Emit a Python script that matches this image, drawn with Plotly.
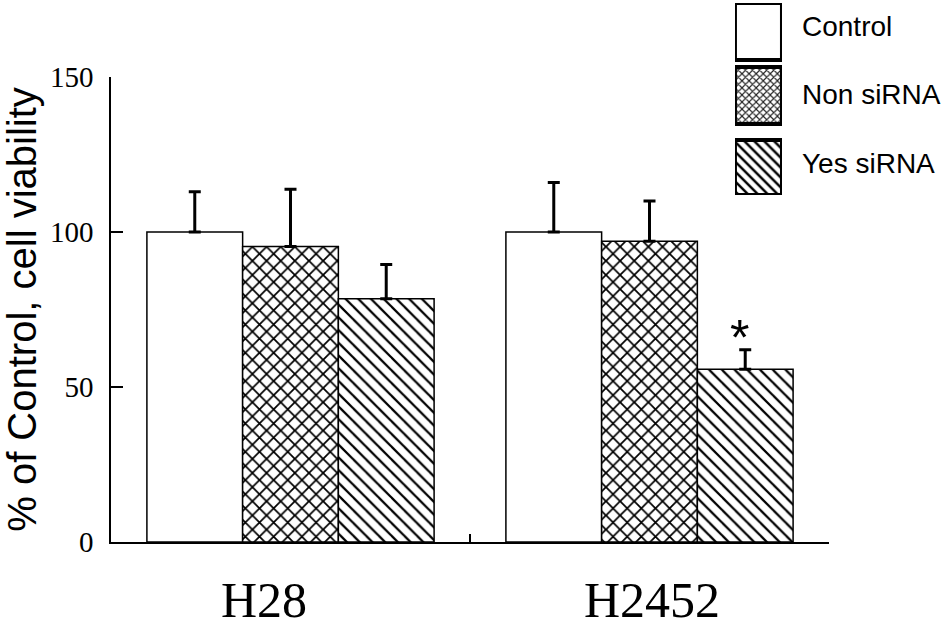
import plotly.graph_objects as go

categories = ["H28", "H2452"]
series_names = ["Control", "Non siRNA", "Yes siRNA"]
control = [100, 100]
non_sirna = [95.3, 97]
yes_sirna = [78.5, 55.7]
control_err = [13, 16]
non_err = [18.5, 13]
yes_err = [11, 6.3]
y_ticks = [0, 50, 100, 150]

values = [control, non_sirna, yes_sirna]
errors = [control_err, non_err, yes_err]
patterns = [dict(shape=""), dict(shape="x", size=10, solidity=0.32, fgcolor="black", bgcolor="white", fgopacity=1),
            dict(shape="\\", size=9, solidity=0.25, fgcolor="black", bgcolor="white", fgopacity=1)]

fig = go.Figure()
for name, v, e, p in zip(series_names, values, errors, patterns):
    fig.add_trace(go.Bar(
        x=categories, y=v, name=name, showlegend=False,
        marker=dict(color="white", line=dict(color="black", width=1.5), pattern=p),
        error_y=dict(type="data", array=e, arrayminus=[0] * len(e), symmetric=False,
                     color="black", thickness=3, width=6),
    ))

# custom legend swatches on an overlay axis
leg_patterns = [dict(shape=""), dict(shape="x", size=5, solidity=0.4, fgcolor="#222", bgcolor="white", fgopacity=1),
                dict(shape="\\", size=7, solidity=0.35, fgcolor="black", bgcolor="white", fgopacity=1)]
leg_base = [135, 71, 0]
leg_height = [57, 57, 55]
for name, p, b, h in zip(series_names, leg_patterns, leg_base, leg_height):
    fig.add_trace(go.Bar(
        x=[0], y=[h], base=[b], width=[1], xaxis="x2", yaxis="y2", showlegend=False,
        offsetgroup="leg",
        marker=dict(color="white", line=dict(color="black", width=4), pattern=p),
        hoverinfo="skip",
    ))

fig.update_layout(
    width=945, height=630,
    margin=dict(l=111, r=116, t=0, b=88),
    paper_bgcolor="white", plot_bgcolor="white",
    barmode="group", bargap=0.2, bargroupgap=0,
    showlegend=False,
    xaxis=dict(
        automargin=False,
        showline=True, linecolor="black", linewidth=1.5,
        ticks="inside", ticklen=8, tickwidth=1.5, tickcolor="black",
        tickson="boundaries", showgrid=False, showticklabels=False,
    ),
    yaxis=dict(
        automargin=False,
        domain=[0, 465 / 542],
        range=[0, 150], tickvals=y_ticks,
        showline=True, linecolor="black", linewidth=1.5,
        ticks="inside", ticklen=12, tickwidth=1.5, tickcolor="black",
        showgrid=False, zeroline=False,
        tickfont=dict(family="Liberation Serif", size=29, color="black"),
        ticklabelstandoff=10,
        title=dict(text="% of Control, cell viability",
                   font=dict(family="Liberation Sans", size=40, color="black"),
                   standoff=6),
    ),
    xaxis2=dict(domain=[0.869, 0.9345], range=[-0.5, 0.5], visible=False, anchor="y2"),
    yaxis2=dict(domain=[(542 - 195) / 542, (542 - 3) / 542], range=[0, 192], visible=False, anchor="x2"),
)

# category labels (H28 label sits left of its group in the original)
label_shift = [-27, 2]
for cat, sh in zip(categories, label_shift):
    fig.add_annotation(x=cat, y=0, xref="x", yref="y", text=cat, showarrow=False,
                       xshift=sh, yshift=-58, yanchor="middle",
                       font=dict(family="Liberation Serif", size=50, color="black"))

for name, yy in zip(series_names, [0.952, 0.825, 0.699]):
    fig.add_annotation(x=0.9596, y=yy, xref="paper", yref="paper", text=name, showarrow=False,
                       xanchor="left", yanchor="middle",
                       font=dict(family="Liberation Sans", size=28, color="black"))

fig.add_annotation(x=1 + 0.8 / 3, y=yes_sirna[1] + yes_err[1], xref="x", yref="y", text="*",
                   showarrow=False, yanchor="bottom", xshift=-6, yshift=-18,
                   font=dict(family="Liberation Sans", size=50, color="black"))

fig.write_html("out.html", post_script="document.body.style.margin='0';",
               config={"displayModeBar": False})
